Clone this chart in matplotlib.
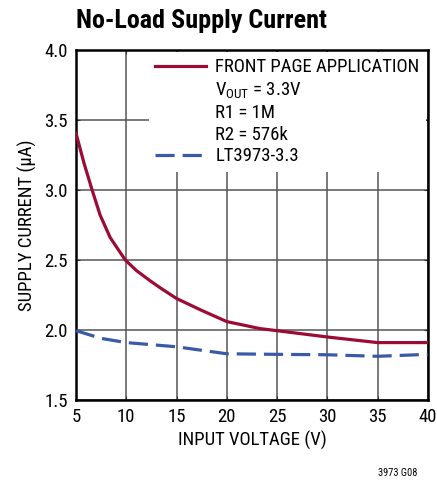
import matplotlib
matplotlib.use('Agg')
import matplotlib.pyplot as plt
from matplotlib.lines import Line2D

# data
vin = [5, 5.8, 6.6, 7.4, 8.4, 9.9, 11.0, 12.4, 13.4, 15, 17.5, 20, 23.3, 25, 30, 35, 40]
i_front = [3.405, 3.19, 3.0, 2.82, 2.66, 2.50, 2.425, 2.35, 2.30, 2.225, 2.14, 2.06, 2.01, 1.995, 1.95, 1.91, 1.91]
vin_lt = [5, 7.5, 10, 15, 20, 25, 30, 35, 40]
i_lt = [1.995, 1.94, 1.91, 1.88, 1.83, 1.826, 1.823, 1.812, 1.826]

RED = '#9b0b35'
BLUE = '#3a5aa8'
FONT = 'Roboto Condensed'

plt.rcParams['font.family'] = [FONT, 'DejaVu Sans']
plt.rcParams['mathtext.fontset'] = 'custom'
plt.rcParams['mathtext.rm'] = FONT

fig = plt.figure(figsize=(4.37, 4.84), dpi=100)
ax = fig.add_axes([0.174, 0.1736, 0.805, 0.723])

ax.plot(vin, i_front, color=RED, lw=2.3, zorder=3, solid_joinstyle='round')
ax.plot(vin_lt, i_lt, color=BLUE, lw=2.3, dashes=(6, 2.5), zorder=3)

ax.set_xlim(5, 40)
ax.set_ylim(1.5, 4.0)
ax.set_xticks(range(5, 41, 5))
ax.set_yticks([1.5, 2.0, 2.5, 3.0, 3.5, 4.0])
ax.set_yticklabels(['1.5', '2.0', '2.5', '3.0', '3.5', '4.0'])
ax.grid(True, color='#555555', lw=1.1)
ax.tick_params(direction='in', length=3, top=True, right=True, labelsize=13.5, pad=6, color='#333333')
for s in ax.spines.values():
    s.set_linewidth(1.8)
    s.set_color('black')

ax.set_xlabel('INPUT VOLTAGE (V)', fontsize=13.5, labelpad=3)
ax.set_ylabel('SUPPLY CURRENT (µA)', fontsize=13.5, labelpad=5)

blank = Line2D([], [], color='none')
handles = [Line2D([], [], color=RED, lw=2.3), blank, blank, blank,
           Line2D([], [], color=BLUE, lw=2.3, dashes=(6, 2.5))]
labels = ['FRONT PAGE APPLICATION', r'$\mathregular{V_{OUT}}$ = 3.3V', 'R1 = 1M', 'R2 = 576k', 'LT3973-3.3']
leg = ax.legend(handles, labels, loc='upper right', fontsize=13.5, frameon=True,
                facecolor='white', edgecolor='none', fancybox=False, framealpha=1,
                borderaxespad=0.1, handlelength=2.7, handletextpad=0.5, labelspacing=0.2,
                borderpad=0.35)

fig.text(0.175, 0.957, 'No-Load Supply Current', fontsize=18.8, fontweight='bold', ha='left', va='center')
fig.text(0.955, 0.012, '3973 G08', fontsize=7.5, ha='right', va='bottom')

fig.savefig('out.png', dpi=100)
